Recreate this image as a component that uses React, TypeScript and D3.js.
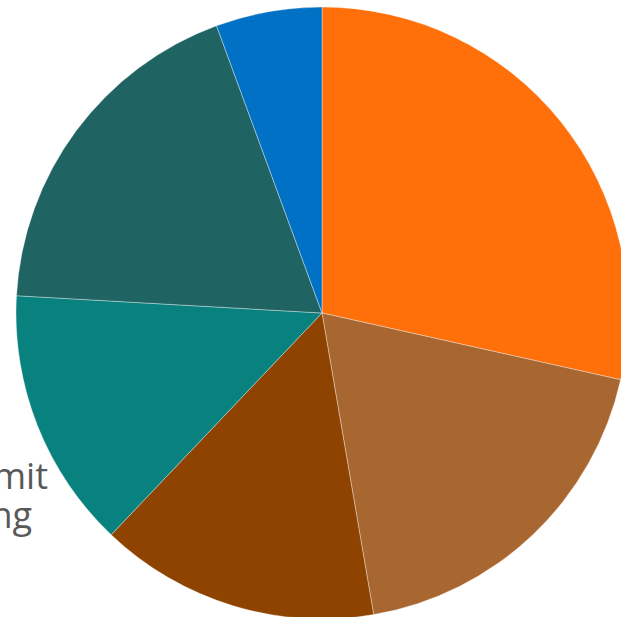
import React from "react";
import * as d3 from "d3";

const categories = ["A", "B", "C", "D", "E", "F"];
const values = [28.5, 18.8, 14.8, 13.8, 18.5, 5.6];
const colors = ["#FF700A", "#A86630", "#8E4300", "#08817F", "#1F6363", "#0071C5"];
const labelLines = ["Submit", "Pending"];

const W = 621;
const H = 617;
const cx = 322;
const cy = 313;
const R = 306;

export default function App() {
  const pie = d3.pie<number>().sort(null).value((d) => d)(values);
  const arc = d3.arc<d3.PieArcDatum<number>>().innerRadius(0).outerRadius(R);
  return (
    <svg
      width={W}
      height={H}
      style={{ position: "absolute", left: 0, top: 0, display: "block" }}
    >
      <g fontFamily="'Open Sans', sans-serif" fontSize={36} fill="#595959">
        <text x={48} y={489} textAnchor="end">{labelLines[0]}</text>
        <text x={32} y={528} textAnchor="end">{labelLines[1]}</text>
      </g>
      <g transform={`translate(${cx},${cy})`}>
        {pie.map((p, i) => (
          <path
            key={categories[i]}
            d={arc(p) || ""}
            fill={colors[i]}
            stroke="#ffffff"
            strokeWidth={0.6}
            strokeOpacity={0.6}
          />
        ))}
      </g>
    </svg>
  );
}
